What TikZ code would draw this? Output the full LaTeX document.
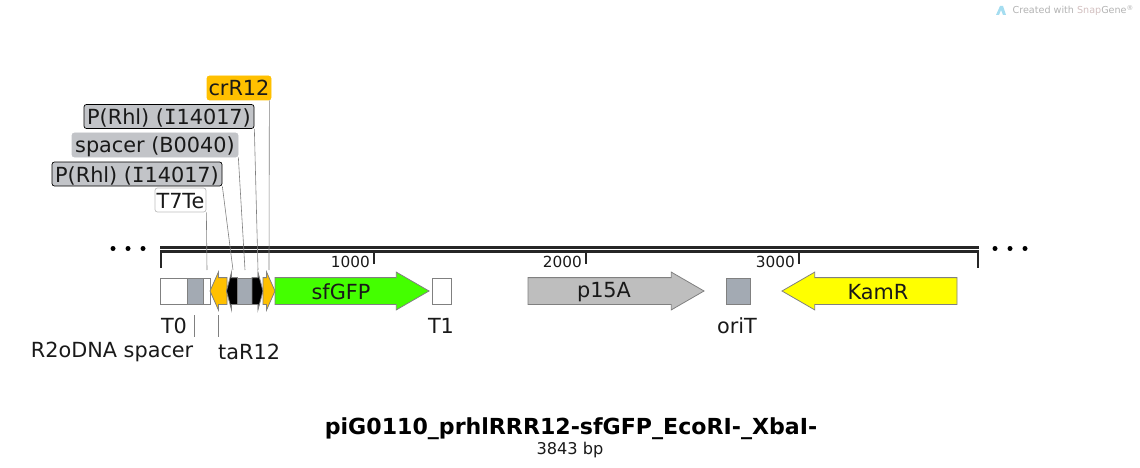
\documentclass[tikz,border=0pt]{standalone}
\usepackage{fontspec}
\setmainfont{DejaVu Sans}
\newfontfamily\monoface{DejaVu Sans Mono}
\definecolor{gold yellow}{HTML}{FFC000}
\definecolor{label gray}{HTML}{C2C4C8}
\definecolor{spacer gray}{HTML}{A3AAB3}
\definecolor{gfp green}{HTML}{44FF00}
\definecolor{ori gray}{HTML}{BEBEBE}
\definecolor{kam yellow}{HTML}{FFFF00}
\definecolor{logo blue}{HTML}{A5DDF0}
\usetikzlibrary{positioning,shapes.arrows}
\tikzstyle{line} = [line width=2.8pt, black!85]
\tikzstyle{tick} = [line width=1.4pt, black!85]
\tikzstyle{leader} = [line width=0.6pt, black!50]
\tikzstyle{site label} = [font=\fontsize{20.8}{24}\selectfont, inner sep=0pt, text=black!90, yshift=-1pt]
\tikzstyle{flag} = [font=\fontsize{20.8}{24}\selectfont, text=black!90, rounded corners=2.5pt, anchor=center, minimum height=24pt, inner sep=0pt, text height=16pt, text depth=0pt, line width=0.7pt]
\tikzstyle{feature} = [draw=black!50, line width=0.8pt, minimum height=26pt, inner sep=0pt, outer sep=0pt, anchor=west]
\tikzstyle{feat arrow} = [draw=black!50, line width=0.8pt, single arrow, single arrow head extend=5.5pt, inner xsep=0pt, inner ysep=13pt, outer sep=0pt]
\tikzstyle{tick label} = [font=\fontsize{15.3}{18}\selectfont, inner sep=0pt, text=black!90]
\tikzstyle{dot} = [circle, fill=black, minimum size=5pt, inner sep=0pt]

\begin{document}
\begin{tikzpicture}[x=1pt,y=-1pt]
        \useasboundingbox (0,0) rectangle (1140,468);

        \node[font=\fontsize{9.6}{12}\selectfont, anchor=east, inner sep=0pt, text=black!30] (credit) at (1134,10.5) {Created with \textcolor{red!30!black!25}{Snap}Gene\textsuperscript{®}};
        \fill[logo blue] (996,15) -- (1000,6) -- (1003,6) -- (1006,15) -- (1003,15) -- (1001,10) -- (999,15) -- cycle;

        \foreach \dotx in {113,128,143,995,1010,1025}
            \node[dot] (dot-\dotx) at (\dotx,248.5) {};

        \coordinate (back-start) at (160,247.5);
        \coordinate (back-end) at (979,247.5);
        \coordinate (ruler-start) at (161,268);
        \coordinate (ruler-left) at (161,251.5);
        \coordinate (ruler-right) at (978,251.5);
        \coordinate (ruler-end) at (978,268);
        \draw[line] (back-start) -- (back-end);
        \draw[line] (ruler-start) -- (ruler-left) -- (ruler-right) -- (ruler-end);

        \node[tick label, anchor=east] (t1000) at (370,262) {1000};
        \node[tick label, anchor=east] (t2000) at (582,262) {2000};
        \node[tick label, anchor=east] (t3000) at (795,262) {3000};
        \foreach \tickx/\tickname in {374/a,586/b,799/c} {
            \coordinate (tick-\tickname-top) at (\tickx,252);
            \coordinate (tick-\tickname-end) at (\tickx,264);
            \draw[tick] (tick-\tickname-top) -- (tick-\tickname-end);
        }

        \node[feature, fill=white, minimum width=27pt] (t0) at (160,291) {};
        \node[feature, fill=spacer gray, minimum width=16pt] (r2o-spacer) at (187,291) {};
        \node[feature, fill=white, minimum width=7pt] (t7te) at (203,291) {};
        \node[feat arrow, fill=gold yellow, shape border rotate=180, minimum height=17pt, single arrow tip angle=132, anchor=tip] (tar12) at (210,291) {};
        \node[feature, fill=spacer gray, minimum width=15pt] (b0040) at (237,291) {};
        \node[feat arrow, fill=black, shape border rotate=180, minimum height=11pt, single arrow tip angle=150, anchor=tip] (rhl-left) at (226.5,291) {};
        \node[feat arrow, fill=black, minimum height=11pt, single arrow tip angle=150, anchor=tip] (rhl-right) at (263,291) {};
        \node[feat arrow, fill=gold yellow, minimum height=12pt, single arrow tip angle=132, anchor=tip] (crr12) at (275,291) {};
        \node[feat arrow, fill=gfp green, minimum height=154pt, single arrow tip angle=60, anchor=tip] (sfgfp) at (429,291) {};
        \node[feature, fill=white, minimum width=19pt] (t1) at (432,291) {};
        \node[feat arrow, fill=ori gray, minimum height=176pt, single arrow tip angle=60, anchor=tip] (p15a) at (704,291) {};
        \node[feature, fill=spacer gray, minimum width=24pt] (orit) at (726,291) {};
        \node[feat arrow, fill=kam yellow, shape border rotate=180, minimum height=175pt, single arrow tip angle=60, anchor=tip] (kamr) at (782,291) {};

        \node[site label] (sfgfp-name) at (341,291) {sfGFP};
        \node[site label] (p15a-name) at (604,291) {p15A};
        \node[site label] (kamr-name) at (878,291) {KamR};

        \node[flag, fill=gold yellow, draw=gold yellow, minimum width=64pt] (crr12-flag) at (239,88) {crR12};
        \node[flag, fill=label gray, draw=black, minimum width=170pt] (rhl-top-flag) at (169,116.5) {P(Rhl) ({\monoface I}14017)};
        \node[flag, fill=label gray, draw=label gray, minimum width=166pt] (b0040-flag) at (155,145) {spacer (B0040)};
        \node[flag, fill=label gray, draw=black, minimum width=170pt] (rhl-low-flag) at (137,174) {P(Rhl) ({\monoface I}14017)};
        \node[flag, fill=white, draw=black!25, minimum width=51pt] (t7te-flag) at (180.5,200) {T7Te};

        \coordinate (crr12-end) at (269,270);
        \coordinate (rhl-top-end) at (258,270);
        \coordinate (b0040-end) at (245,270);
        \coordinate (rhl-low-end) at (233,270);
        \coordinate (t7te-end) at (207,270);
        \draw[leader] (crr12-flag.south east) ++(-2,0) -- (crr12-end);
        \draw[leader] (rhl-top-flag.south east) -- (rhl-top-end);
        \draw[leader] (b0040-flag.south east) -- (b0040-end);
        \draw[leader] (rhl-low-flag.south east) -- (rhl-low-end);
        \draw[leader] (t7te-flag.south east) -- (t7te-end);

        \node[site label] (t0-name) at (174,325) {T0};
        \node[site label] (t1-name) at (441,325) {T1};
        \node[site label] (orit-name) at (737,325) {oriT};
        \node[site label, anchor=east] (r2o-name) at (193.5,350.5) {R2oDNA spacer};
        \node[site label, anchor=west] (tar12-name) at (218,350.5) {taR12};

        \coordinate (r2o-top) at (194,315);
        \coordinate (r2o-end) at (194,337);
        \coordinate (tar12-top) at (218,315);
        \coordinate (tar12-end) at (218,337);
        \draw[leader] (r2o-top) -- (r2o-end);
        \draw[leader] (tar12-top) -- (tar12-end);

        \node[font=\bfseries\fontsize{22.1}{26}\selectfont, inner sep=0pt] (title) at (571,429) {piG0110\_prhlRRR12-sfGFP\_EcoRI-\_XbaI-};
        \node[font=\fontsize{16.2}{19}\selectfont, inner sep=0pt, text=black!90] (size) at (570,450) {3843 bp};
    \end{tikzpicture}
\end{document}
